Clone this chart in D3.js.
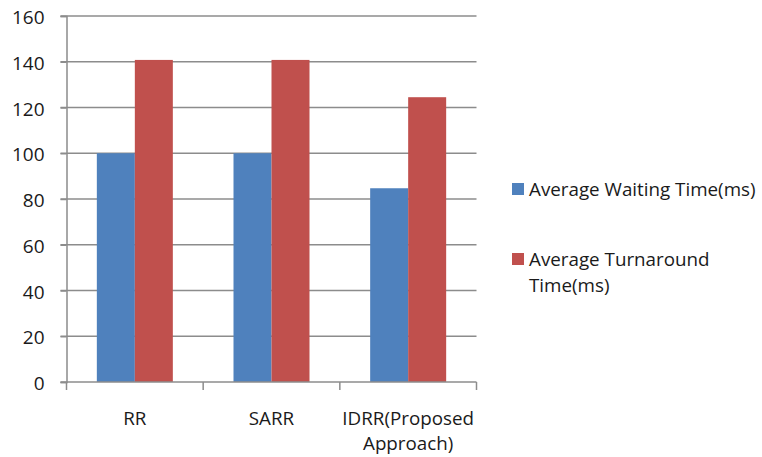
<!DOCTYPE html>
<html>
<head>
<meta charset="utf-8">
<script src="https://cdn.jsdelivr.net/npm/d3@7"></script>
<style>
  body { margin: 0; background: #fff; }
  text { font-family: "Open Sans", sans-serif; fill: #1a1a1a; }
</style>
</head>
<body>
<div id="container"></div>
<script>
/* DATA */
const categories = ["RR", "SARR", "IDRR(Proposed Approach)"]
const waiting = [100, 100, 84.7]
const turnaround = [140.8, 140.8, 124.5]
const seriesNames = ["Average Waiting Time(ms)", "Average Turnaround Time(ms)"]
const colors = ["#4F81BD", "#C0504D"]
const yTicks = [0, 20, 40, 60, 80, 100, 120, 140, 160]

/* CONSTANTS */
const width = 762
const height = 457
const fontSize = 18.8
const plot = { left: 66.5, right: 476.5, top: 16, bottom: 382 }

const data = categories.map((c, i) => ({ cat: c, values: [waiting[i], turnaround[i]] }))

/* SCALES */
const xScale = d3.scaleBand()
  .domain(categories)
  .range([plot.left, plot.right])

const yScale = d3.scaleLinear()
  .domain([0, 160])
  .range([plot.bottom, plot.top])

const barW = 38

const svg = d3.select("#container")
  .append("svg")
  .attr("width", width)
  .attr("height", height)
  .style("font-size", fontSize + "px")

// gridlines
svg.append("g")
  .selectAll("line")
  .data(yTicks.filter(d => d > 0))
  .join("line")
  .attr("x1", plot.left - 6)
  .attr("x2", plot.right)
  .attr("y1", d => yScale(d))
  .attr("y2", d => yScale(d))
  .attr("stroke", "#8c8c8c")
  .attr("stroke-width", 1.5)

// bars
const groups = svg.selectAll("g.cat")
  .data(data)
  .join("g")
  .attr("class", "cat")

groups.selectAll("rect")
  .data(d => d.values.map((v, j) => ({ cat: d.cat, v, j })))
  .join("rect")
  .attr("x", d => xScale(d.cat) + xScale.bandwidth() / 2 - barW + d.j * barW)
  .attr("width", barW)
  .attr("y", d => yScale(d.v))
  .attr("height", d => yScale(0) - yScale(d.v))
  .attr("fill", (d) => colors[d.j])

// y axis
const yAxisGroup = svg.append("g")
  .attr("transform", `translate(${plot.left},0)`)
  .call(d3.axisLeft(yScale).tickValues(yTicks).tickSize(6).tickPadding(16))

yAxisGroup.select(".domain").attr("stroke", "#8c8c8c").attr("stroke-width", 1.5)
yAxisGroup.selectAll(".tick line").attr("stroke", "#8c8c8c").attr("stroke-width", 1.5)
yAxisGroup.selectAll(".tick text")
  .style("font-size", "19px")
  .attr("dy", "0.4em")
  .style("font-family", '"Open Sans", sans-serif')
  .attr("fill", "#1a1a1a")

// x axis
const xAxisGroup = svg.append("g")
  .attr("transform", `translate(0,${plot.bottom})`)

xAxisGroup.append("line")
  .attr("x1", plot.left - 6)
  .attr("x2", plot.right)
  .attr("stroke", "#8c8c8c")
  .attr("stroke-width", 1.5)

const bounds = categories.map(c => xScale(c)).concat([plot.right])
xAxisGroup.selectAll("line.tick")
  .data(bounds)
  .join("line")
  .attr("class", "tick")
  .attr("x1", d => d)
  .attr("x2", d => d)
  .attr("y1", 0)
  .attr("y2", 8)
  .attr("stroke", "#8c8c8c")
  .attr("stroke-width", 1.5)

// category labels (wrapped)
const catLines = { "IDRR(Proposed Approach)": ["IDRR(Proposed", "Approach)"] }
xAxisGroup.selectAll("text.cat")
  .data(categories)
  .join("text")
  .attr("class", "cat")
  .attr("text-anchor", "middle")
  .attr("x", d => xScale(d) + xScale.bandwidth() / 2)
  .attr("y", 43)
  .each(function (d) {
    const lines = catLines[d] || [d]
    d3.select(this).selectAll("tspan")
      .data(lines)
      .join("tspan")
      .attr("x", xScale(d) + xScale.bandwidth() / 2)
      .attr("dy", (l, i) => i === 0 ? 0 : 25)
      .text(l => l)
  })

// legend
const legendItems = [
  { name: seriesNames[0], lines: ["Average Waiting Time(ms)"], y: 196 },
  { name: seriesNames[1], lines: ["Average Turnaround", "Time(ms)"], y: 266 }
]
const legend = svg.append("g")
legend.selectAll("rect")
  .data(legendItems)
  .join("rect")
  .attr("x", 512)
  .attr("y", d => d.y - 13)
  .attr("width", 12)
  .attr("height", 12)
  .attr("fill", (d, i) => colors[i])

legend.selectAll("text")
  .data(legendItems)
  .join("text")
  .attr("x", 529)
  .attr("y", d => d.y)
  .each(function (d) {
    d3.select(this).selectAll("tspan")
      .data(d.lines)
      .join("tspan")
      .attr("x", 529)
      .attr("dy", (l, i) => i === 0 ? 0 : 26)
      .text(l => l)
  })
</script>
</body>
</html>
